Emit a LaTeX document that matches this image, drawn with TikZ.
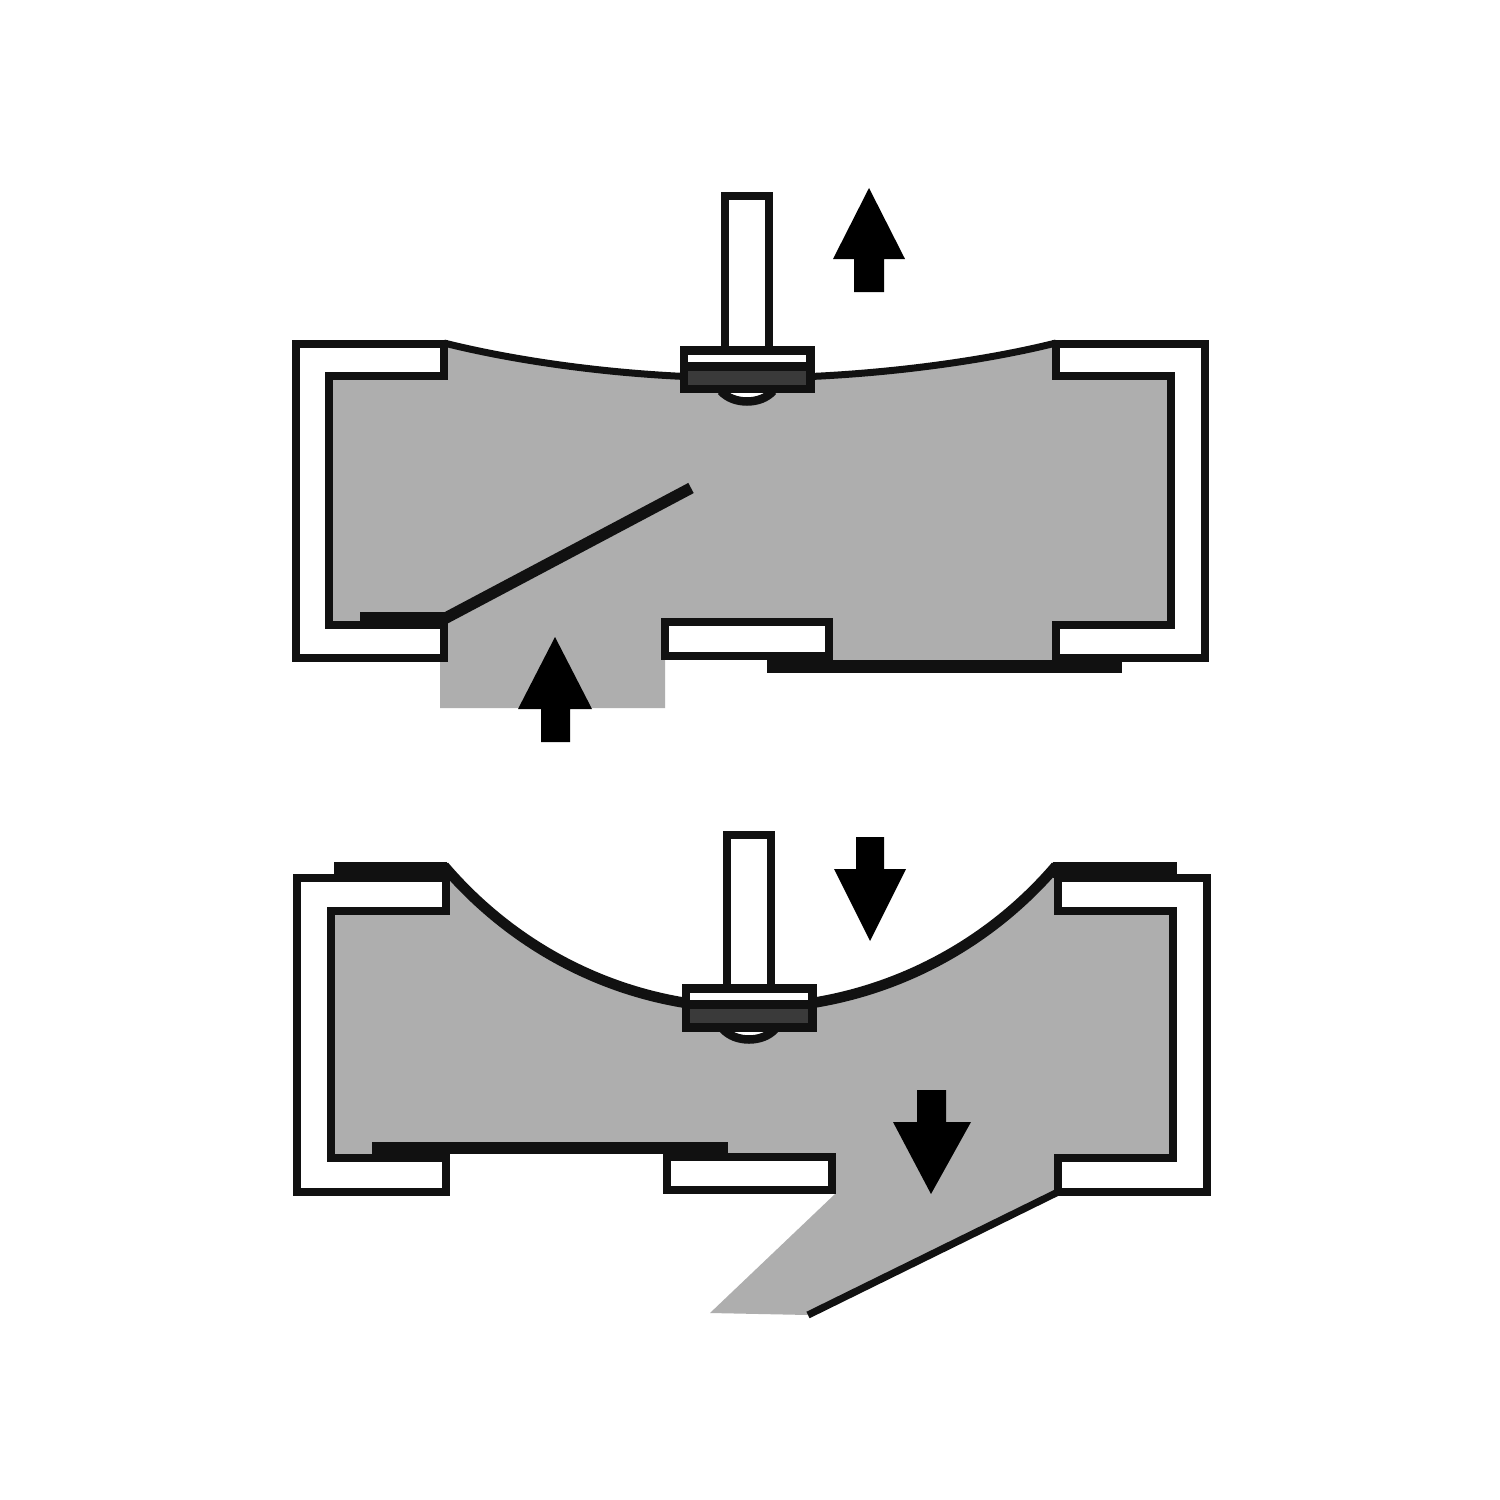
\documentclass[tikz,border=0pt]{standalone}
\definecolor{ink}{HTML}{111111}
\definecolor{fluid}{HTML}{AEAEAE}
\definecolor{band}{HTML}{3A3A3A}
\tikzset{
  wall/.style={draw=ink,fill=white,line width=0.085cm,miter limit=10},
  fluidarea/.style={fill=fluid,draw=none},
  solid ink/.style={fill=ink,draw=none},
  arrowshape/.style={fill=black,draw=none},
  skin/.style={draw=ink,line cap=butt}
}
\begin{document}
\begin{tikzpicture}[x=0.01cm,y=-0.01cm]
\useasboundingbox (0,0) rectangle (1500,1500);
\fill[white] (0,0) rectangle (1500,1500);

% ---------- upper figure ----------
\path[fluidarea] (444,343) .. controls (520,362) and (630,378) .. (748,378)
  .. controls (865,378) and (980,362) .. (1056,343)
  -- (1056,376) -- (1171,376) -- (1171,625) -- (1056,625) -- (1056,660)
  -- (830,660) -- (830,625) -- (665,625) -- (665,708) -- (440,708)
  -- (440,625) -- (329,625) -- (329,376) -- (444,376) -- cycle;
\draw[wall] (444,344) -- (296,344) -- (296,658) -- (444,658) -- (444,625)
  -- (329,625) -- (329,376) -- (444,376) -- cycle;
\draw[wall] (1056,344) -- (1205,344) -- (1205,658) -- (1056,658) -- (1056,625)
  -- (1171,625) -- (1171,376) -- (1056,376) -- cycle;
\draw[wall] (665,622) rectangle (829,656);
\path[solid ink] (360,612) rectangle (446,625);
\path[solid ink] (767,660) rectangle (1122,673);
\draw[skin,line width=0.115cm] (442,620) -- (691,488);
\draw[skin,line width=0.07cm] (444,343) .. controls (520,362) and (630,378) .. (748,378)
  .. controls (865,378) and (980,362) .. (1056,343);
\draw[wall] (725,196) rectangle (769,350);
\draw[wall] (721,391) .. controls (733,405) and (761,405) .. (773,391);
\path[solid ink] (680,346) rectangle (815,393);
\fill[white] (688,355) rectangle (806,362);
\fill[band] (688,371) rectangle (806,385);
\path[arrowshape] (869,188) -- (905,259) -- (884,259) -- (884,292) -- (854,292)
  -- (854,259) -- (833,259) -- cycle;
\path[arrowshape] (555,637) -- (592,709) -- (570,709) -- (570,742) -- (541,742)
  -- (541,709) -- (518,709) -- cycle;

% ---------- lower figure ----------
\path[fluidarea] (446,868) .. controls (520,955) and (630,1008) .. (749,1008)
  .. controls (868,1008) and (980,955) .. (1054,868)
  -- (1058,911) -- (1173,911) -- (1173,1158) -- (1058,1158) -- (1058,1192)
  -- (808,1315) -- (710,1313) -- (835,1194) -- (832,1157) -- (668,1157)
  -- (668,1150) -- (446,1150) -- (446,1158) -- (331,1158) -- (331,911) -- (446,911) -- cycle;
\draw[wall] (446,878) -- (297,878) -- (297,1192) -- (446,1192) -- (446,1158)
  -- (331,1158) -- (331,911) -- (446,911) -- cycle;
\draw[wall] (1058,878) -- (1207,878) -- (1207,1192) -- (1058,1192) -- (1058,1158)
  -- (1173,1158) -- (1173,911) -- (1058,911) -- cycle;
\draw[wall] (667,1157) rectangle (832,1190);
\path[solid ink] (334,862) rectangle (447,878);
\path[solid ink] (1053,862) rectangle (1177,878);
\path[solid ink] (372,1142) rectangle (728,1154);
\draw[skin,line width=0.072cm] (808,1315) -- (1058,1192);
\draw[skin,line width=0.105cm] (444,866) .. controls (520,955) and (630,1008) .. (749,1008)
  .. controls (868,1008) and (980,955) .. (1056,866);
\draw[wall] (727,835) rectangle (771,988);
\draw[wall] (723,1029) .. controls (735,1043) and (763,1043) .. (775,1029);
\path[solid ink] (682,984) rectangle (817,1032);
\fill[white] (690,993) rectangle (808,1000);
\fill[band] (690,1009) rectangle (808,1023);
\path[arrowshape] (870,941) -- (906,869) -- (884,869) -- (884,837) -- (856,837)
  -- (856,869) -- (834,869) -- cycle;
\path[arrowshape] (931,1194) -- (971,1122) -- (946,1122) -- (946,1090) -- (917,1090)
  -- (917,1122) -- (893,1122) -- cycle;
\end{tikzpicture}
\end{document}
